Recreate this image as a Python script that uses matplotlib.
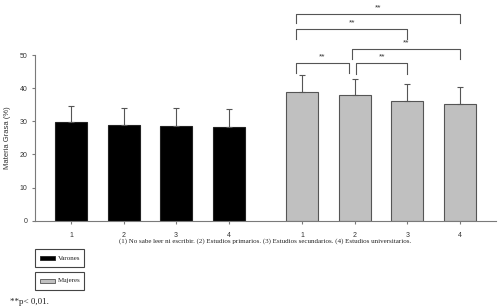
import matplotlib
matplotlib.use('Agg')
import matplotlib.pyplot as plt
from matplotlib.patches import Rectangle

#########################################################

CATEGORIES = ['1', '2', '3', '4']

VARONES = [29.7, 29.0, 28.7, 28.4]
VARONES_ERR = [5.0, 5.1, 5.4, 5.2]

MUJERES = [38.9, 37.8, 36.0, 35.3]
MUJERES_ERR = [5.2, 5.0, 5.2, 5.1]

# significance brackets between Mujeres groups: (from, to, height, leg bottom)
BRACKETS = [
    (0, 3, 62.5, 59.6),
    (0, 2, 57.9, 54.9),
    (1, 3, 51.8, 48.7),
    (0, 1, 47.5, 44.7),
    (1, 2, 47.5, 44.2),
]

NOTE = ('(1) No sabe leer ni escribir. (2) Estudios primarios. '
        '(3) Estudios secundarios. (4) Estudios universitarios.')

#########################################################

AX_COLOR = '#7a7a7a'
SANS = 'Liberation Sans'
SERIF = 'Liberation Serif'

x_var = [0, 1, 2, 3]
x_muj = [4.41 + i for i in range(4)]

fig = plt.figure(figsize=(5, 3.07), dpi=100)
ax = fig.add_axes([0.07, 0.281, 0.922, 0.5397])

ax.bar(x_var, VARONES, width=0.61, color='black', edgecolor='#222222', linewidth=0.8)
ax.bar(x_muj, MUJERES, width=0.61, color='#c0c0c0', edgecolor='#555555', linewidth=0.8)

ax.errorbar(x_var, VARONES, yerr=[[0] * 4, VARONES_ERR], fmt='none',
            ecolor='#555555', elinewidth=0.8, capsize=2, capthick=0.8)
ax.errorbar(x_muj, MUJERES, yerr=[[0] * 4, MUJERES_ERR], fmt='none',
            ecolor='#555555', elinewidth=0.8, capsize=2, capthick=0.8)

for i, j, h, low in BRACKETS:
    x0 = x_muj[i] - 0.12 if i == 0 else x_muj[i] + (0.02 if (i, j) == (1, 2) else -0.05)
    x1 = x_muj[j] - 0.12 if (i, j) == (0, 1) else x_muj[j]
    ax.plot([x0, x0, x1, x1], [low, h, h, low], color='#555555', lw=0.8, clip_on=False)
    ax.text((x0 + x1) / 2, h + 0.8, '**', ha='center', va='bottom',
            fontsize=6, family=SANS, color='#333333')

ax.set_xlim(-0.69, 8.1)
ax.set_ylim(0, 50)
ax.set_yticks([0, 10, 20, 30, 40, 50])
ax.set_xticks(x_var + x_muj)
ax.set_xticklabels(CATEGORIES + CATEGORIES)

for s in ['top', 'right']:
    ax.spines[s].set_visible(False)
for s in ['left', 'bottom']:
    ax.spines[s].set_color(AX_COLOR)
    ax.spines[s].set_linewidth(0.8)
ax.tick_params(colors=AX_COLOR, labelcolor='#333333', labelsize=5, length=2, width=0.8)
for lbl in ax.get_xticklabels() + ax.get_yticklabels():
    lbl.set_family(SANS)
ax.tick_params(axis='x', pad=6)

ax.set_ylabel('Materia Grasa (%)', fontsize=5.5, family=SANS, color='#333333', labelpad=6)

fig.text(0.53, 0.215, NOTE, ha='center', va='center', fontsize=5, family=SERIF, color='#222222')

# legend boxes drawn by hand
for k, (label, fc, ec) in enumerate([('Varones', 'black', '#222222'),
                                    ('Mujeres', '#c0c0c0', '#555555')]):
    top = 249 + k * 22.5
    fig.patches.append(Rectangle((35 / 500, 1 - (top + 18) / 307), 49 / 500, 18 / 307,
                                 transform=fig.transFigure, fill=False,
                                 edgecolor='#444444', linewidth=0.8))
    fig.patches.append(Rectangle((39.5 / 500, 1 - (top + 11) / 307), 15 / 500, 4 / 307,
                                 transform=fig.transFigure, facecolor=fc,
                                 edgecolor=ec, linewidth=0.6))
    fig.text(58 / 500, 1 - (top + 9) / 307, label, ha='left', va='center',
             fontsize=5, family=SERIF, color='#222222')

fig.text(10 / 500, 1 - 301.5 / 307, '**p< 0,01.', ha='left', va='center',
         fontsize=6.5, family=SERIF, color='#222222')

fig.savefig('out.png', dpi=100)
